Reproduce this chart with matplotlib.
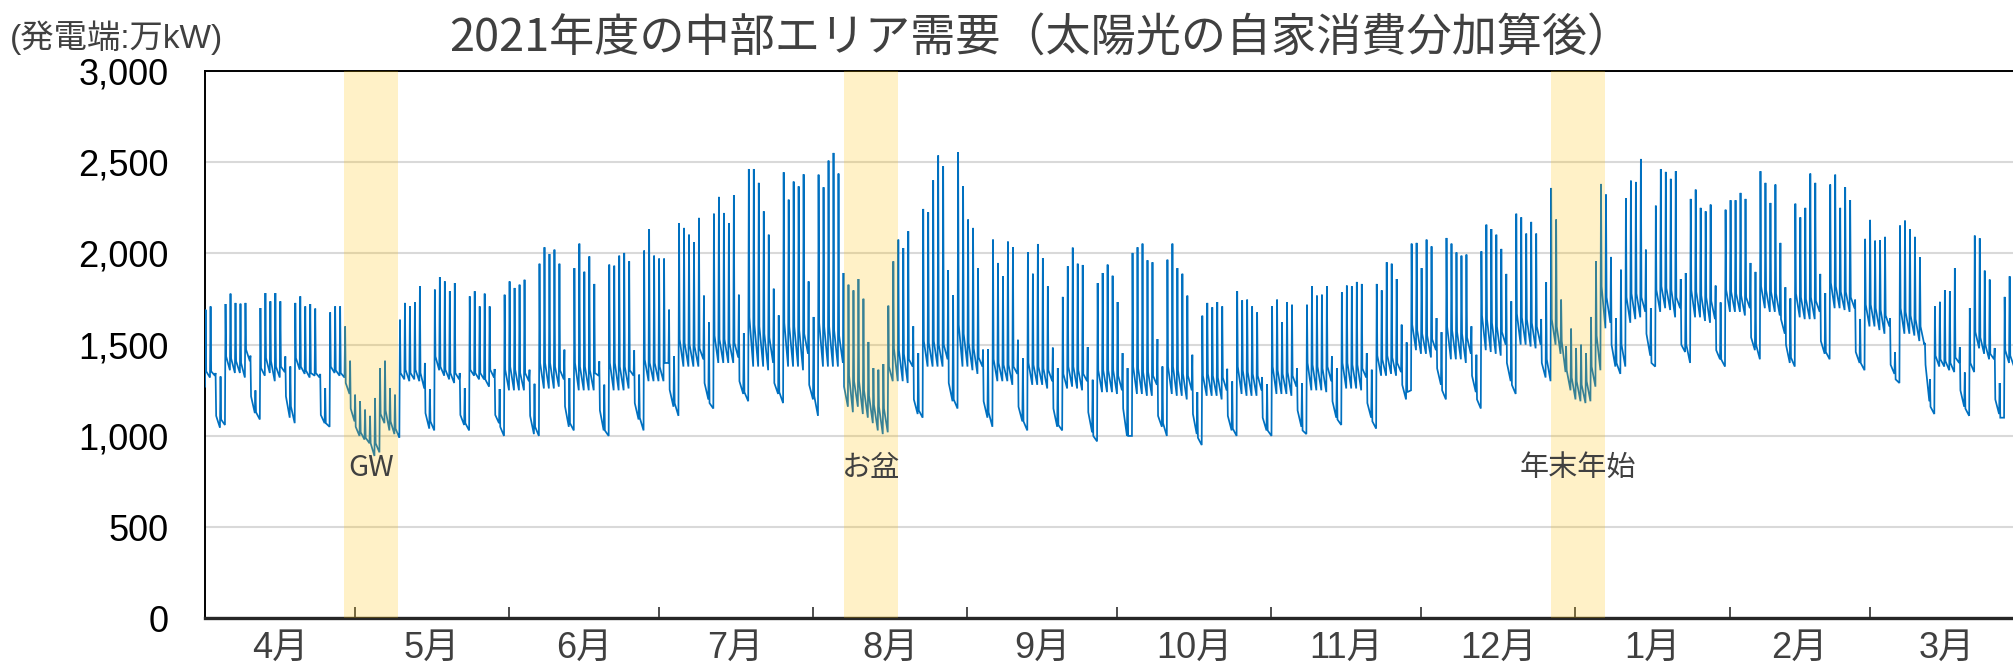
import numpy as np
import matplotlib
matplotlib.use("Agg")
import matplotlib.pyplot as plt
import matplotlib.transforms as mtransforms
from matplotlib import font_manager as fm

# ---------------- data (daily values, 2021-04-01 .. 2022-03-31, 万kW) ----------------
# night low (start of day), daily peak, level just after the peak
daily_low = [
    1270, 1320, 1330, 1045,
    1060, 1360, 1345, 1345, 1320, 1410, 1125,
    1090, 1330, 1345, 1300, 1320, 1350, 1100,
    1070, 1363, 1340, 1320, 1330, 1320, 1070,
    1050, 1345, 1330, 1320, 1230, 1080, 1000,
    980, 960, 890, 910, 1070, 1030, 1010,
    990, 1310, 1300, 1310, 1300, 1260, 1040,
    1030, 1360, 1330, 1310, 1290, 1310, 1060,
    1030, 1330, 1310, 1310, 1270, 1320, 1070,
    1000, 1250, 1250, 1250, 1250, 1300, 1010,
    1000, 1260, 1260, 1260, 1270, 1310, 1050,
    1030, 1250, 1250, 1250, 1250, 1330, 1030,
    1000, 1250, 1250, 1250, 1260, 1330, 1090,
    1030, 1300, 1300, 1300, 1300, 1400, 1160,
    1110, 1380, 1380, 1380, 1380, 1420, 1200,
    1150, 1400, 1400, 1400, 1400, 1430, 1230,
    1190, 1380, 1380, 1380, 1360, 1400, 1230,
    1180, 1380, 1380, 1380, 1360, 1450, 1200,
    1110, 1380, 1380, 1380, 1380, 1400, 1160,
    1130, 1160, 1120, 1100, 1070, 1030, 1010,
    1020, 1300, 1300, 1300, 1290, 1380, 1120,
    1100, 1380, 1380, 1380, 1380, 1420, 1190,
    1150, 1380, 1380, 1360, 1340, 1380, 1100,
    1050, 1300, 1300, 1300, 1280, 1340, 1080,
    1030, 1280, 1280, 1280, 1260, 1300, 1050,
    1030, 1260, 1270, 1260, 1250, 1300, 1020,
    970, 1240, 1240, 1240, 1230, 1250, 1000,
    1000, 1230, 1230, 1220, 1220, 1280, 1050,
    1000, 1230, 1220, 1220, 1200, 1250, 1010,
    950, 1220, 1220, 1220, 1200, 1250, 1030,
    1000, 1230, 1220, 1220, 1220, 1250, 1030,
    1000, 1230, 1230, 1230, 1220, 1270, 1050,
    1010, 1250, 1250, 1250, 1240, 1300, 1100,
    1060, 1260, 1260, 1260, 1250, 1320, 1100,
    1040, 1330, 1330, 1340, 1330, 1350, 1200,
    1250, 1470, 1450, 1450, 1430, 1470, 1280,
    1200, 1420, 1420, 1420, 1400, 1450, 1240,
    1150, 1470, 1460, 1450, 1440, 1500, 1300,
    1230, 1500, 1500, 1490, 1480, 1500, 1320,
    1300, 1500, 1450, 1350, 1250, 1200, 1190,
    1180, 1190, 1270, 1360, 1590, 1620, 1380,
    1340, 1380, 1620, 1640, 1650, 1680, 1440,
    1380, 1680, 1700, 1690, 1650, 1700, 1460,
    1400, 1650, 1650, 1630, 1620, 1640, 1420,
    1380, 1680, 1680, 1680, 1660, 1700, 1470,
    1420, 1700, 1680, 1680, 1660, 1560, 1400,
    1380, 1650, 1640, 1640, 1640, 1680, 1450,
    1420, 1700, 1700, 1690, 1680, 1700, 1400,
    1360, 1600, 1600, 1580, 1560, 1600, 1340,
    1290, 1560, 1560, 1550, 1520, 1500, 1190,
    1120, 1380, 1380, 1360, 1350, 1400, 1160,
    1110, 1350, 1480, 1450, 1420, 1420, 1120,
    1100, 1400, 1380, 1380,
]

daily_peak = [
    1692, 1710, 1345, 1326,
    1723, 1780, 1729, 1725, 1729, 1440, 1250,
    1701, 1783, 1738, 1783, 1738, 1436, 1381,
    1729, 1765, 1710, 1723, 1698, 1340, 1262,
    1677, 1710, 1710, 1600, 1412, 1226, 1190,
    1144, 1110, 1208, 1372, 1412, 1262, 1226,
    1637, 1729, 1710, 1732, 1820, 1400, 1257,
    1802, 1871, 1847, 1793, 1838, 1345, 1262,
    1765, 1793, 1710, 1780, 1710, 1367, 1257,
    1774, 1847, 1811, 1829, 1856, 1363, 1286,
    1944, 2034, 1997, 2021, 1944, 1473, 1317,
    1920, 2054, 1900, 1984, 1833, 1409, 1281,
    1939, 1933, 1988, 2003, 1957, 1469, 1336,
    2016, 2134, 1988, 1972, 1972, 1692, 1436,
    2167, 2140, 2103, 2061, 2195, 1769, 1622,
    2218, 2310, 2222, 2167, 2319, 1774, 1564,
    2463, 2463, 2387, 2231, 2103, 1807, 1661,
    2445, 2295, 2394, 2368, 2434, 1847, 1652,
    2432, 2363, 2509, 2551, 2438, 1893, 1829,
    1798, 1860, 1752, 1515, 1372, 1363, 1394,
    1714, 1957, 2076, 2030, 2122, 1601, 1454,
    2244, 2226, 2401, 2537, 2478, 1908, 1771,
    2555, 2368, 2186, 2140, 1920, 1473, 1476,
    2076, 1948, 1875, 2065, 2034, 1527, 1425,
    2008, 1889, 2052, 1975, 1820, 1484, 1372,
    1762, 1930, 2032, 1944, 1937, 1487, 1308,
    1838, 1893, 1939, 1878, 1734, 1454, 1372,
    2003, 2034, 2054, 1963, 1952, 1531, 1381,
    1966, 2054, 1920, 1889, 1769, 1445, 1240,
    1659, 1729, 1705, 1734, 1710, 1368, 1299,
    1793, 1743, 1747, 1710, 1677, 1323, 1284,
    1710, 1747, 1623, 1734, 1719, 1372, 1290,
    1719, 1820, 1769, 1774, 1820, 1436, 1372,
    1787, 1824, 1820, 1844, 1833, 1454, 1363,
    1833, 1798, 1952, 1944, 1860, 1610, 1513,
    2054, 2058, 1920, 2076, 2039, 1646, 1569,
    2085, 2054, 2006, 1988, 1994, 1601, 1445,
    2012, 2158, 2134, 2103, 2025, 1888, 1738,
    2218, 2198, 2109, 2173, 2109, 1641, 1842,
    2359, 2186, 1747, 1491, 1588, 1482, 1500,
    1454, 1652, 1957, 2381, 2323, 1981, 1646,
    1911, 2304, 2399, 2392, 2518, 2021, 1701,
    2262, 2463, 2447, 2409, 2451, 1860, 1893,
    2299, 2350, 2250, 2231, 2268, 1824, 1732,
    2240, 2292, 2292, 2332, 2299, 1948, 1899,
    2451, 2387, 2277, 2378, 2058, 1815, 1754,
    2273, 2198, 2250, 2438, 2387, 1888, 1783,
    2378, 2432, 2250, 2363, 2293, 1747, 1641,
    2080, 2184, 2070, 2072, 2091, 1646, 1460,
    2153, 2180, 2134, 2091, 1980, 1510, 1312,
    1710, 1735, 1798, 1793, 1920, 1487, 1348,
    1701, 2098, 2083, 1906, 1857, 1482, 1290,
    1762, 1875, 1800, 1800,
]

daily_after = [
    1354, 1354, 1110, 1090,
    1436, 1425, 1410, 1400, 1473, 1217, 1130,
    1372, 1427, 1410, 1380, 1380, 1217, 1162,
    1427, 1380, 1360, 1345, 1345, 1115, 1070,
    1380, 1360, 1345, 1290, 1150, 1050, 1020,
    990, 960, 960, 1120, 1140, 1080, 1040,
    1345, 1363, 1345, 1363, 1345, 1125, 1080,
    1436, 1380, 1363, 1345, 1345, 1115, 1070,
    1363, 1345, 1345, 1310, 1363, 1115, 1050,
    1363, 1380, 1363, 1345, 1345, 1110, 1050,
    1400, 1400, 1400, 1380, 1360, 1162, 1070,
    1400, 1380, 1380, 1360, 1345, 1140, 1030,
    1400, 1400, 1380, 1380, 1360, 1180, 1100,
    1418, 1400, 1400, 1380, 1400, 1253, 1180,
    1530, 1510, 1500, 1490, 1480, 1290, 1180,
    1550, 1530, 1530, 1510, 1510, 1300, 1240,
    1650, 1610, 1600, 1560, 1540, 1290, 1240,
    1620, 1600, 1600, 1580, 1560, 1280, 1220,
    1620, 1600, 1600, 1580, 1550, 1270, 1330,
    1300, 1300, 1250, 1220, 1170, 1160, 1150,
    1380, 1480, 1470, 1450, 1420, 1200, 1140,
    1520, 1510, 1520, 1500, 1500, 1290, 1200,
    1610, 1560, 1510, 1480, 1430, 1190, 1130,
    1420, 1400, 1390, 1390, 1380, 1160, 1080,
    1400, 1390, 1380, 1370, 1360, 1150, 1060,
    1340, 1380, 1380, 1360, 1340, 1130, 1000,
    1360, 1360, 1360, 1360, 1330, 1150, 1000,
    1380, 1370, 1350, 1350, 1330, 1110, 1070,
    1380, 1380, 1360, 1340, 1330, 1120, 990,
    1330, 1340, 1330, 1320, 1320, 1110, 1040,
    1380, 1360, 1350, 1340, 1330, 1100, 1030,
    1380, 1360, 1340, 1350, 1330, 1140, 1030,
    1400, 1390, 1380, 1370, 1380, 1190, 1090,
    1400, 1400, 1390, 1390, 1370, 1180, 1080,
    1440, 1420, 1440, 1430, 1400, 1280, 1240,
    1610, 1580, 1560, 1550, 1530, 1370, 1250,
    1600, 1580, 1570, 1560, 1540, 1330, 1200,
    1660, 1640, 1620, 1600, 1570, 1400, 1280,
    1670, 1650, 1640, 1620, 1600, 1400, 1420,
    1640, 1600, 1520, 1360, 1320, 1300, 1280,
    1300, 1380, 1550, 1820, 1760, 1500, 1400,
    1500, 1760, 1780, 1780, 1760, 1560, 1400,
    1800, 1820, 1810, 1800, 1760, 1500, 1500,
    1800, 1790, 1770, 1760, 1740, 1470, 1420,
    1800, 1790, 1780, 1770, 1760, 1540, 1500,
    1820, 1800, 1790, 1780, 1640, 1500, 1430,
    1780, 1760, 1750, 1760, 1740, 1520, 1460,
    1840, 1820, 1790, 1790, 1760, 1460, 1400,
    1720, 1720, 1700, 1690, 1660, 1390, 1310,
    1700, 1680, 1660, 1640, 1600, 1390, 1160,
    1440, 1420, 1410, 1400, 1430, 1250, 1150,
    1400, 1570, 1540, 1500, 1450, 1200, 1100,
    1470, 1440, 1420, 1420,
]

month_labels = ["4月", "5月", "6月", "7月", "8月", "9月", "10月", "11月", "12月", "1月", "2月", "3月"]
month_days = [30, 31, 30, 31, 31, 30, 31, 30, 31, 31, 28, 31]

band_labels = ["GW", "お盆", "年末年始"]
band_start = [27.9, 128.2, 270.1]   # day index from 2021-04-01
band_end = [38.8, 139.1, 281.0]

y_ticks = [0, 500, 1000, 1500, 2000, 2500, 3000]
title = "2021年度の中部エリア需要（太陽光の自家消費分加算後）"
unit_label = "(発電端:万kW)"

# ---------------- fonts ----------------
def has_font(name):
    try:
        fm.findfont(fm.FontProperties(family=name), fallback_to_default=False)
        return True
    except Exception:
        return False

NUM_FONT = "Liberation Sans Narrow" if has_font("Liberation Sans Narrow") else "Liberation Sans"
CJK_FONT = "Noto Sans CJK JP"
plt.rcParams["font.family"] = [NUM_FONT, CJK_FONT, "DejaVu Sans"]

# ---------------- figure ----------------
W, H, DPI = 2013, 672, 100
fig = plt.figure(figsize=(W / DPI, H / DPI), dpi=DPI)
ax_left, ax_right_px = 205, 2024
ax_bottom_px, ax_top_px = 618.4, 71
ax = fig.add_axes([ax_left / W, (H - ax_bottom_px) / H,
                   (ax_right_px - ax_left) / W, (ax_bottom_px - ax_top_px) / H])

n = len(daily_peak)
xs, ys = [], []
for d in range(n):
    xs += [d, d + 0.12, d + 0.24]
    ys += [daily_low[d], daily_peak[d], daily_after[d]]
ax.plot(xs, ys, color="#0070C0", lw=1.25, solid_joinstyle="miter", zorder=3)

ax.set_xlim(0, 365)
ax.set_ylim(0, 3000)

# bands (semi-transparent, drawn on top like the original)
for s, e, lab in zip(band_start, band_end, band_labels):
    ax.axvspan(s, e, color="#FFC000", alpha=0.22, lw=0, zorder=4)
    ax.text((s + e) / 2, 825, lab, ha="center", va="center", fontsize=21,
            color="#404040", family=[CJK_FONT, "DejaVu Sans"], zorder=5)

# grid
ax.set_yticks(y_ticks)
ax.set_yticklabels([f"{v:,}" for v in y_ticks], fontsize=26, color="#000000")
ax.yaxis.grid(True, color="#D9D9D9", lw=1.5, zorder=0)
ax.tick_params(axis="y", length=0, pad=26)

# month boundary ticks
bounds = np.cumsum(month_days)[:-1]
ax.set_xticks(bounds)
ax.set_xticklabels([])
ax.tick_params(axis="x", direction="in", length=8, width=1.3, color="#404040")

centers = np.cumsum([0] + month_days[:-1]) + np.array(month_days) / 2
trans = mtransforms.blended_transform_factory(ax.transData, ax.transAxes)
for c, lab in zip(centers, month_labels):
    ax.text(c, -0.054, lab, transform=trans, ha="center", va="center",
            fontsize=26, color="#404040", clip_on=False)

for side in ["left", "top", "right"]:
    ax.spines[side].set_color("#000000")
    ax.spines[side].set_linewidth(1.4)
ax.spines["bottom"].set_color("#262626")
ax.spines["bottom"].set_linewidth(2.4)
ax.set_axisbelow(True)

fig.text(1041 / W, 1 - 38 / H, title, ha="center", va="center", fontsize=32.5,
         color="#404040", family=[CJK_FONT, "DejaVu Sans"])
fig.text(10 / W, 1 - 38 / H, unit_label, ha="left", va="center", fontsize=24,
         color="#404040")

fig.savefig("out.png", dpi=DPI)
